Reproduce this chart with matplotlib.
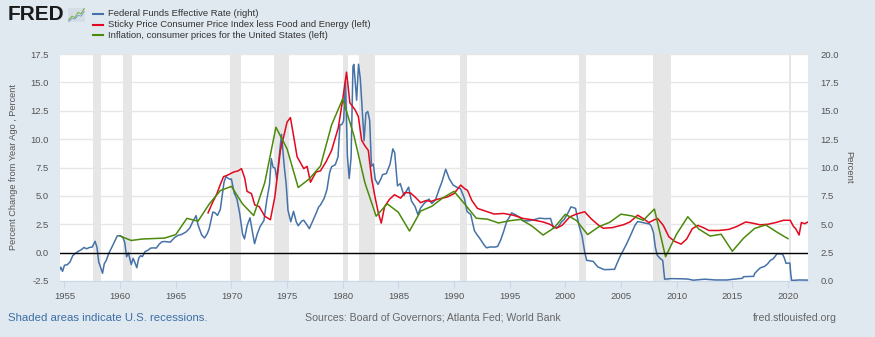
import numpy as np
import matplotlib
matplotlib.use('Agg')
import matplotlib.pyplot as plt

plt.rcParams['font.family'] = ['Liberation Sans', 'DejaVu Sans']

# ---------------- data ----------------
# Federal Funds Effective Rate, percent (right axis)
ff_year = [1954.5, 1954.67, 1954.83, 1955.0, 1955.25, 1955.5, 1955.75, 1956.0, 1956.25, 1956.5,
           1956.75, 1957.0, 1957.25, 1957.5, 1957.75, 1957.92, 1958.08, 1958.25, 1958.42, 1958.58,
           1958.75, 1959.0, 1959.25, 1959.5, 1959.75, 1960.0, 1960.25, 1960.42, 1960.58, 1960.75,
           1961.0, 1961.17, 1961.33, 1961.5, 1961.67, 1961.83, 1962.0, 1962.25, 1962.5, 1962.75,
           1963.0, 1963.25, 1963.5, 1963.75, 1964.0, 1964.5, 1964.92, 1965.25, 1965.5, 1965.92,
           1966.25, 1966.5, 1966.83, 1967.0, 1967.33, 1967.58, 1967.83, 1968.0, 1968.33, 1968.5,
           1968.75, 1969.0, 1969.33, 1969.5, 1969.83, 1970.0, 1970.25, 1970.5, 1970.75, 1971.0,
           1971.17, 1971.42, 1971.67, 1971.92, 1972.08, 1972.33, 1972.58, 1972.92, 1973.17, 1973.42,
           1973.58, 1973.75, 1973.92, 1974.08, 1974.33, 1974.5, 1974.75, 1974.92, 1975.08, 1975.33,
           1975.58, 1975.83, 1976.0, 1976.33, 1976.5, 1976.83, 1977.0, 1977.33, 1977.58, 1977.83,
           1978.0, 1978.33, 1978.58, 1978.83, 1979.0, 1979.33, 1979.58, 1979.75, 1979.92, 1980.08,
           1980.25, 1980.42, 1980.58, 1980.75, 1980.92, 1981.0, 1981.25, 1981.42, 1981.58, 1981.75,
           1981.92, 1982.08, 1982.25, 1982.42, 1982.58, 1982.75, 1982.92, 1983.17, 1983.42, 1983.58,
           1983.92, 1984.25, 1984.5, 1984.67, 1984.92, 1985.17, 1985.5, 1985.92, 1986.17, 1986.5,
           1986.75, 1987.0, 1987.33, 1987.75, 1988.0, 1988.33, 1988.67, 1988.92, 1989.25, 1989.58,
           1989.92, 1990.25, 1990.58, 1990.92, 1991.17, 1991.5, 1991.83, 1992.08, 1992.33, 1992.67,
           1992.92, 1993.25, 1993.67, 1993.92, 1994.17, 1994.42, 1994.75, 1994.92, 1995.17, 1995.5,
           1995.92, 1996.17, 1996.67, 1997.17, 1997.67, 1998.17, 1998.67, 1998.92, 1999.33, 1999.67,
           1999.92, 2000.25, 2000.5, 2000.92, 2001.0, 2001.25, 2001.5, 2001.75, 2001.92, 2002.5,
           2002.92, 2003.5, 2004.42, 2004.67, 2004.92, 2005.25, 2005.5, 2005.92, 2006.25, 2006.5,
           2007.58, 2007.75, 2007.92, 2008.08, 2008.25, 2008.5, 2008.75, 2008.92, 2009.5, 2010.5,
           2011.0, 2011.5, 2012.5, 2013.5, 2014.5, 2015.92, 2016.0, 2016.92, 2017.0, 2017.25,
           2017.5, 2017.92, 2018.17, 2018.42, 2018.67, 2018.92, 2019.0, 2019.5, 2019.67, 2019.83,
           2020.08, 2020.17, 2020.25, 2020.33, 2021.0, 2021.8]
ff_rate = [0.80, 1.22, 0.85, 1.39, 1.43, 1.68, 2.24, 2.45, 2.62, 2.75,
           2.95, 2.84, 2.96, 2.99, 3.50, 2.98, 1.67, 1.20, 0.68, 1.53,
           1.80, 2.48, 2.96, 3.47, 3.98, 3.99, 3.84, 3.39, 2.14, 2.47,
           1.45, 2.00, 1.62, 1.17, 2.00, 2.23, 2.15, 2.60, 2.71, 2.90,
           2.92, 2.90, 3.23, 3.45, 3.48, 3.42, 3.85, 4.04, 4.09, 4.32,
           4.65, 5.17, 5.76, 4.94, 4.05, 3.79, 4.17, 4.60, 6.07, 6.03,
           5.78, 6.30, 8.67, 9.19, 8.97, 8.98, 7.76, 7.21, 5.91, 4.14,
           3.71, 4.91, 5.57, 4.14, 3.29, 4.17, 4.80, 5.33, 7.09, 8.49,
           10.78, 10.01, 9.95, 8.97, 11.31, 12.92, 10.06, 8.53, 6.24, 5.22,
           6.14, 5.20, 4.87, 5.29, 5.35, 4.88, 4.61, 5.35, 5.90, 6.51,
           6.70, 7.28, 8.04, 9.58, 10.07, 10.24, 10.94, 13.78, 13.78, 14.13,
           17.61, 11.00, 9.03, 10.87, 18.90, 19.08, 15.93, 19.10, 17.82, 15.08,
           12.37, 14.78, 14.94, 14.15, 10.12, 10.31, 8.95, 8.51, 8.98, 9.37,
           9.47, 10.29, 11.64, 11.30, 8.38, 8.58, 7.53, 8.27, 7.06, 6.56,
           5.85, 6.43, 6.85, 7.22, 6.83, 7.15, 8.10, 8.76, 9.85, 8.99,
           8.45, 8.26, 8.13, 7.31, 6.12, 5.86, 4.43, 4.06, 3.73, 3.22,
           2.92, 3.00, 2.99, 3.05, 3.56, 4.25, 5.29, 5.53, 6.00, 5.85,
           5.60, 5.31, 5.30, 5.39, 5.54, 5.49, 5.51, 4.68, 4.74, 5.22,
           5.45, 6.02, 6.53, 6.40, 5.98, 4.80, 3.97, 2.49, 1.82, 1.73,
           1.24, 1.00, 1.03, 1.61, 2.16, 2.79, 3.26, 4.16, 4.90, 5.24,
           5.02, 4.76, 4.24, 3.00, 2.28, 2.00, 1.81, 0.16, 0.21, 0.19,
           0.17, 0.07, 0.16, 0.09, 0.09, 0.24, 0.38, 0.41, 0.65, 0.91,
           1.15, 1.30, 1.51, 1.82, 1.95, 2.27, 2.40, 2.38, 2.04, 1.55,
           1.58, 1.58, 0.65, 0.05, 0.09, 0.08]

# Sticky Price CPI less Food and Energy, percent change from year ago (left axis)
sticky_year = [1967.9, 1968.3, 1968.7, 1969.0, 1969.3, 1969.6, 1970.2, 1970.6, 1970.9, 1971.2,
               1971.4, 1971.8, 1972.1, 1972.5, 1973.0, 1973.5, 1973.9, 1974.4, 1975.0, 1975.3,
               1975.6, 1975.9, 1976.5, 1976.8, 1977.1, 1977.6, 1978.0, 1978.5, 1979.0, 1979.6,
               1980.0, 1980.34, 1980.5, 1980.64, 1981.1, 1981.4, 1981.7, 1982.0, 1982.3, 1982.6,
               1982.9, 1983.2, 1983.46, 1983.76, 1984.2, 1984.65, 1985.2, 1985.6, 1986.1, 1986.5,
               1987.0, 1987.5, 1987.9, 1988.5, 1989.4, 1990.0, 1990.6, 1991.0, 1991.2, 1991.6,
               1992.1, 1993.0, 1993.6, 1994.46, 1995.3, 1996.25, 1997.0, 1998.0, 1998.6, 1999.2,
               1999.7, 2000.4, 2001.0, 2001.74, 2002.3, 2003.0, 2003.4, 2004.2, 2005.2, 2005.8,
               2006.5, 2007.0, 2007.5, 2008.0, 2008.3, 2008.8, 2009.3, 2009.8, 2010.4, 2010.9,
               2011.4, 2011.9, 2012.4, 2012.9, 2013.8, 2014.7, 2015.4, 2016.2, 2016.8, 2017.5,
               2018.2, 2018.9, 2019.6, 2020.2, 2020.5, 2020.7, 2021.0, 2021.2, 2021.5, 2021.8]
sticky_val = [3.5, 4.4, 5.2, 6.0, 6.7, 6.8, 7.1, 7.2, 7.4, 6.55,
              5.4, 5.2, 4.2, 4.05, 3.2, 2.9, 4.9, 9.0, 11.5, 11.9,
              10.2, 8.45, 7.4, 7.6, 6.2, 7.1, 7.2, 8.0, 9.0, 11.0,
              13.5, 15.9, 14.5, 13.2, 12.6, 12.0, 9.9, 9.4, 9.0, 6.5,
              4.9, 3.5, 2.6, 4.05, 4.7, 5.1, 4.8, 5.3, 5.25, 4.9,
              4.4, 4.6, 4.5, 4.7, 4.9, 5.2, 5.95, 5.6, 5.5, 4.6,
              3.9, 3.6, 3.4, 3.45, 3.3, 3.0, 2.9, 2.7, 2.5, 2.15,
              2.4, 3.15, 3.4, 3.6, 3.0, 2.4, 2.15, 2.2, 2.45, 2.7,
              3.3, 3.0, 2.65, 2.9, 3.0, 2.4, 1.4, 1.0, 0.75, 1.2,
              2.1, 2.4, 2.2, 1.95, 1.95, 2.05, 2.3, 2.7, 2.6, 2.45,
              2.5, 2.65, 2.85, 2.85, 2.3, 2.1, 1.55, 2.65, 2.55, 2.7]

# Inflation, consumer prices for the United States, annual percent (left axis)
infl_year = list(range(1960, 2021))
infl_val = [1.46, 1.07, 1.20, 1.24, 1.28, 1.59, 3.02, 2.77, 4.27, 5.46,
            5.84, 4.29, 3.27, 6.18, 11.05, 9.14, 5.74, 6.50, 7.63, 11.25,
            13.55, 10.33, 6.13, 3.21, 4.30, 3.55, 1.90, 3.66, 4.08, 4.83,
            5.40, 4.23, 3.03, 2.95, 2.61, 2.81, 2.93, 2.34, 1.55, 2.19,
            3.38, 2.83, 1.59, 2.27, 2.68, 3.39, 3.23, 2.85, 3.84, -0.36,
            1.64, 3.16, 2.07, 1.46, 1.62, 0.12, 1.26, 2.13, 2.44, 1.81,
            1.23]

# US recessions (start, end)
rec_start = [1957.6, 1960.3, 1969.9, 1973.85, 1980.0, 1981.5, 1990.5, 2001.2, 2007.9, 2020.1]
rec_end = [1958.3, 1961.1, 1970.9, 1975.2, 1980.5, 1982.9, 1991.2, 2001.9, 2009.5, 2020.3]

years_ticks = list(range(1955, 2021, 5))

# ---------------- plot ----------------
BG = '#e1e9f0'
TXT = '#555555'
W, H = 875, 337

fig = plt.figure(figsize=(8.75, 3.37), dpi=100, facecolor=BG)
ax = fig.add_axes([60 / W, 1 - 281 / H, 748 / W, 227 / H])
ax2 = ax.twinx()

# right axis carries the white background, shading and grid; left axis sits on top
ax2.patch.set_visible(True)
ax2.patch.set_facecolor('white')
ax.set_zorder(ax2.get_zorder() + 1)
ax.patch.set_visible(False)

for s, e in zip(rec_start, rec_end):
    ax2.axvspan(s, e, color='#e6e6e6', lw=0, zorder=0)

ax2.plot(ff_year, ff_rate, color='#4572a7', lw=1.1, zorder=3)
ax.plot(sticky_year, sticky_val, color='#e2081f', lw=1.1, zorder=3)
ax.plot(infl_year, infl_val, color='#4b8a0b', lw=1.1, zorder=4)
ax.axhline(0, color='black', lw=1.0, zorder=5)

ax.set_xlim(1954.6, 2021.8)
ax.set_ylim(-2.5, 17.5)
ax2.set_ylim(0, 20)
ax.set_yticks(np.arange(-2.5, 17.6, 2.5))
ax2.set_yticks(np.arange(0, 20.1, 2.5))
ax.set_yticklabels([f'{v:.1f}' for v in np.arange(-2.5, 17.6, 2.5)])
ax2.set_yticklabels([f'{v:.1f}' for v in np.arange(0, 20.1, 2.5)])
ax.set_xticks(years_ticks)
ax.set_xticklabels([str(y) for y in years_ticks])

ax2.grid(axis='y', color='#e6e6e6', lw=1.0, zorder=1)
ax2.set_axisbelow(True)

for a in (ax, ax2):
    for sp in a.spines.values():
        sp.set_visible(False)
ax2.spines['bottom'].set_visible(True)
ax2.spines['bottom'].set_color('#ccd6eb')

ax.tick_params(axis='y', length=0, labelsize=6.8, labelcolor=TXT, pad=8)
ax2.tick_params(axis='y', length=0, labelsize=6.8, labelcolor=TXT, pad=9)
ax.tick_params(axis='x', length=5, color='#ccd6eb', labelsize=6.8, labelcolor=TXT, pad=3)
ax2.tick_params(axis='x', length=0)

ax.set_ylabel('Percent Change from Year Ago , Percent', fontsize=6.6, color=TXT, labelpad=9)
ax2.set_ylabel('Percent', fontsize=6.8, color=TXT, rotation=270, labelpad=10)

# logo
fig.text(8 / W, 1 - 15 / H, 'FRED', fontsize=15, fontweight='bold', color='#1a1a1a',
         va='center', ha='left')
icon = fig.add_axes([68 / W, 1 - 22 / H, 17 / W, 14 / H])
icon.set_facecolor('#d5dde5')
icon.plot([0, 1, 2, 3, 4, 5], [1, 2, 1.6, 3, 2.6, 4], color='#7fb24a', lw=0.8)
icon.plot([0, 1, 2, 3, 4, 5], [0.6, 1.4, 1.2, 2.2, 2.0, 3.2], color='#6a9ccc', lw=0.6)
icon.set_xticks([])
icon.set_yticks([])
for sp in icon.spines.values():
    sp.set_visible(False)

# legend
leg_items = [('Federal Funds Effective Rate (right)', '#4572a7'),
             ('Sticky Price Consumer Price Index less Food and Energy (left)', '#e2081f'),
             ('Inflation, consumer prices for the United States (left)', '#4b8a0b')]
for i, (lab, c) in enumerate(leg_items):
    yy = 1 - (14 + 10.5 * i) / H
    fig.add_artist(plt.Line2D([93 / W, 103 / W], [yy, yy], color=c, lw=1.5,
                              transform=fig.transFigure))
    fig.text(108 / W, yy, lab, fontsize=6.8, color='#333333', va='center', ha='left')

# footer
fig.text(8 / W, 1 - 318 / H, 'Shaded areas indicate U.S. recessions.', fontsize=8.2,
         color='#3a6ea5', va='center', ha='left')
fig.text(305 / W, 1 - 318 / H, 'Sources: Board of Governors; Atlanta Fed; World Bank',
         fontsize=7.6, color='#666666', va='center', ha='left')
fig.text(837 / W, 1 - 318 / H, 'fred.stlouisfed.org', fontsize=7.6, color='#666666',
         va='center', ha='right')

fig.savefig('out.png', dpi=100, facecolor=BG)
